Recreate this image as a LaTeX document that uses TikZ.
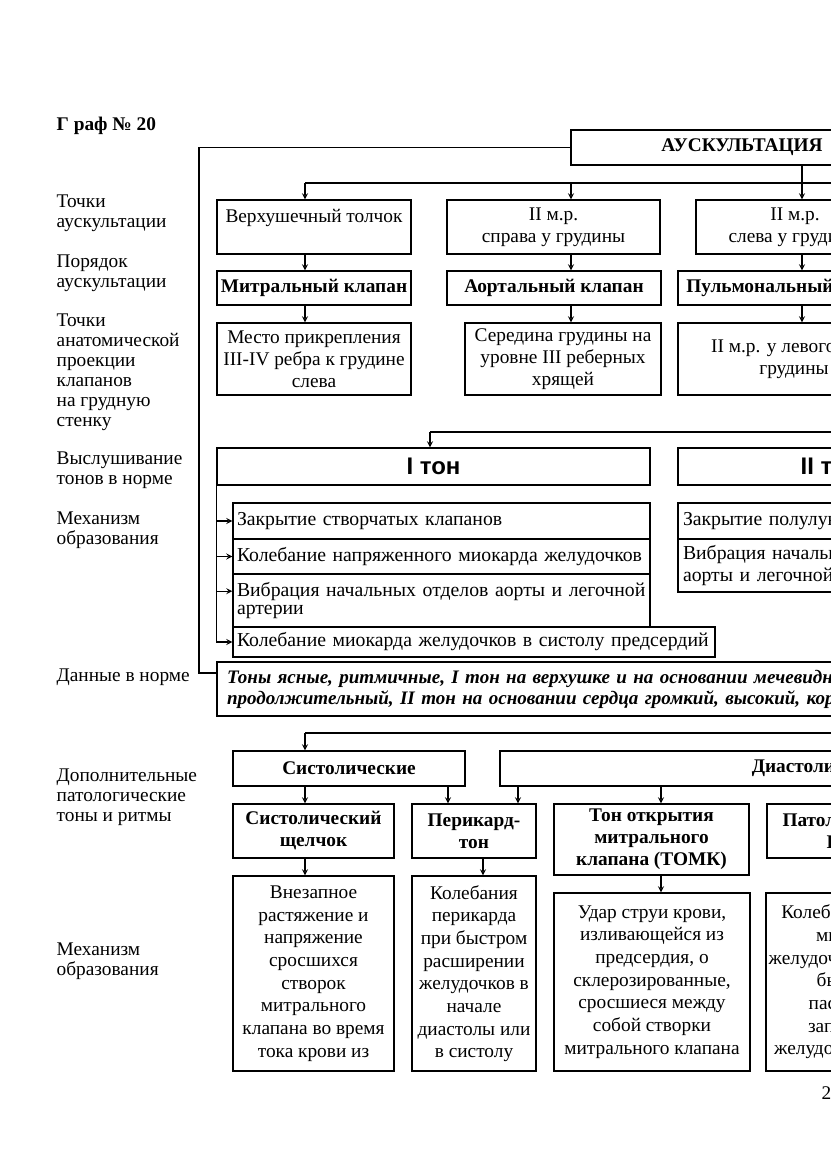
\documentclass[tikz,border=0pt]{standalone}
\usepackage{fontspec}
\setmainfont{Liberation Serif}
\newfontfamily\tonfont{Liberation Sans}
\usepackage{tikz}

\tikzset{
  blk/.style={draw, inner sep=0pt, align=center, font=\fontsize{14.5}{16.5}\selectfont},
  hd/.style={blk, font=\fontsize{14.5}{16.5}\selectfont\bfseries},
  lst/.style={draw, inner xsep=3pt, inner ysep=0pt, align=left, font=\fontsize{14.8}{16.5}\selectfont},
  lbl/.style={anchor=north west, inner sep=0pt, align=left, font=\fontsize{14.5}{15}\selectfont},
  ton/.style={blk, font=\tonfont\fontsize{18}{20}\selectfont\bfseries},
}

\begin{document}
\begin{tikzpicture}[x=0.75pt, y=-0.75pt, line width=1pt]
  \useasboundingbox (0,0) rectangle (831,1174);
  \clip (0,0) rectangle (831,1174);

  \node[lbl, font=\fontsize{14.5}{15}\selectfont\bfseries] (title) at (56,116) {Г раф № 20};
  \node[lbl] (lTochki) at (56,194) {Точки\\аускультации};
  \node[lbl] (lPoryad) at (56,254) {Порядок\\аускультации};
  \node[lbl] (lProj)   at (56,313) {Точки\\анатомической\\проекции\\клапанов\\на грудную\\стенку};
  \node[lbl] (lVysl)   at (56,451) {Выслушивание\\тонов в норме};
  \node[lbl] (lMehA)   at (56,511) {Механизм\\образования};
  \node[lbl] (lNorm)   at (56,668) {Данные в норме};
  \node[lbl] (lDop)    at (56,768) {Дополнительные\\патологические\\тоны и ритмы};
  \node[lbl] (lMehB)   at (56,942) {Механизм\\образования};

  \node[hd, minimum width=256.5pt, minimum height=26.25pt] (ausk) at (742,147.5) {АУСКУЛЬТАЦИЯ};

  \node[blk, minimum width=145.5pt, minimum height=40.5pt] (tolch) at (314,227) {Верхушечный толчок\\\mbox{}};
  \node[blk, minimum width=159.75pt, minimum height=40.5pt] (aortB) at (553.5,227) {II м.р.\\справа у грудины};
  \node[blk, minimum width=148.5pt, minimum height=40.5pt] (pulmB) at (795,227) {II м.р.\\слева у грудины};

  \node[hd, minimum width=145.5pt, minimum height=25.5pt] (mitr) at (314,288) {Митральный клапан};
  \node[hd, minimum width=160.5pt, minimum height=25.5pt] (aort) at (554,288) {Аортальный клапан};
  \node[hd, minimum width=174pt, minimum height=25.5pt] (pulm) at (794,288) {Пульмональный клапан};

  \node[blk, minimum width=145.5pt, minimum height=54pt] (mitrP) at (314,359) {Место прикрепления\\III-IV ребра к грудине\\слева};
  \node[blk, minimum width=147pt, minimum height=54pt] (aortP) at (563,359) {Середина грудины на\\уровне III реберных\\хрящей};
  \node[blk, minimum width=174pt, minimum height=54pt] (pulmP) at (794,359) {II м.р. у левого края\\грудины};

  \node[ton, minimum width=324.75pt, minimum height=27.75pt] (tonA) at (433.5,466.5) {I тон};
  \node[ton, minimum width=229.5pt, minimum height=27.75pt] (tonB) at (831,466.5) {II тон};

  \node[lst, text width=306.75pt, minimum height=27pt] (mA) at (441.5,521) {\mbox{Закрытие створчатых клапанов}};
  \node[lst, text width=306.75pt, minimum height=26.25pt] (mB) at (441.5,556.5) {\mbox{Колебание напряженного миокарда желудочков}};
  \node[lst, text width=306.75pt, minimum height=39.75pt, font=\fontsize{14.8}{13.5}\selectfont] (mC) at (441.5,600.5) {\mbox{Вибрация начальных отделов аорты и легочной}\\артерии};
  \node[lst, text width=355.5pt, minimum height=22.5pt] (mD) at (474,642) {\mbox{Колебание миокарда желудочков в систолу предсердий}};

  \node[lst, inner xsep=3.75pt, text width=234pt, minimum height=27pt] (rA) at (839,521) {\mbox{Закрытие полулунных клапанов}};
  \node[lst, inner xsep=3.75pt, text width=234pt, minimum height=39.75pt] (rB) at (839,565.5) {\mbox{Вибрация начальных отделов}\\\mbox{аорты и легочной артерии}};

  \node[lst, inner xsep=7.5pt, text width=647.25pt, minimum height=40.5pt, font=\fontsize{14.3}{15.75}\selectfont\bfseries\itshape] (norm) at (658.5,689)
    {\mbox{Тоны ясные, ритмичные, I тон на верхушке и на основании мечевидного}\\\mbox{продолжительный, II тон на основании сердца громкий, высокий, короткий}};

  \node[hd, minimum width=174pt, minimum height=26.25pt] (syst) at (349,768.5) {Систолические};
  \node[hd, minimum width=484.5pt, minimum height=26.25pt] (diast) at (823,768.5) {Диастолические};

  \node[hd, minimum width=120.75pt, minimum height=40.5pt] (click) at (313.5,831) {Систолический\\щелчок};
  \node[hd, minimum width=93pt, minimum height=40.5pt] (peri) at (474,831) {Перикард-\\тон};
  \node[hd, minimum width=146.25pt, minimum height=53.25pt] (tomk) at (651.5,839.5) {Тон открытия\\митрального\\клапана (ТОМК)};
  \node[hd, minimum width=132pt, minimum height=40.5pt] (patol) at (855,831) {Патологический\\III тон};

  \node[blk, font=\fontsize{14.5}{17}\selectfont, minimum width=120.75pt, minimum height=146.25pt] (clickM) at (313.5,973.5)
    {Внезапное\\растяжение и\\напряжение\\сросшихся\\створок\\митрального\\клапана во время\\тока крови из};
  \node[blk, font=\fontsize{14.5}{17}\selectfont, minimum width=93pt, minimum height=146.25pt] (periM) at (474,973.5)
    {Колебания\\перикарда\\при быстром\\расширении\\желудочков в\\начале\\диастолы или\\в систолу};
  \node[blk, font=\fontsize{14.5}{17}\selectfont, minimum width=147pt, minimum height=133.5pt] (tomkM) at (652,982)
    {Удар струи крови,\\изливающейся из\\предсердия, о\\склерозированные,\\сросшиеся между\\собой створки\\митрального клапана};
  \node[blk, font=\fontsize{14.5}{17}\selectfont, minimum width=133.5pt, minimum height=133.5pt] (patolM) at (855,982)
    {Колебания стенок\\миокарда\\желудочков во время\\быстрого\\пассивного\\заполнения\\желудочков кровью};

  \node[lbl] (pnum) at (821,1086) {2};

  \coordinate (a1) at (305,183);
  \coordinate (a2) at (571,183);
  \coordinate (a3) at (802,183);
  \coordinate (aend) at (860,183);
  \draw (a1) -- (aend);
  \path[-stealth]
    (a1) edge (a1 |- tolch.north)
    (a2) edge (a2 |- aortB.north)
    (ausk.south -| a3) edge (a3 |- pulmB.north)
    (tolch.south -| a1) edge (mitr.north -| a1)
    (aortB.south -| a2) edge (aort.north -| a2)
    (pulmB.south -| a3) edge (pulm.north -| a3)
    (mitr.south -| a1) edge (mitrP.north -| a1)
    (aort.south -| a2) edge (aortP.north -| a2)
    (pulm.south -| a3) edge (pulmP.north -| a3);

  \coordinate (fr) at (199,673);
  \draw (ausk.west) -| (fr) -- (fr -| norm.west);

  \coordinate (b1) at (430,432);
  \coordinate (bend) at (860,432);
  \draw (b1) -- (bend);
  \path[-stealth] (b1) edge (b1 |- tonA.north);
  \draw (tonA.south west) -- (tonA.south west |- mD.west);
  \coordinate (mCin) at ([yshift=7pt]mC.west);
  \path[-stealth]
    (tonA.south west |- mA.west) edge (mA.west)
    (tonA.south west |- mB.west) edge (mB.west)
    (tonA.south west |- mCin) edge (mCin)
    (tonA.south west |- mD.west) edge (mD.west);

  \coordinate (c1) at (305,733);
  \coordinate (cend) at (860,733);
  \coordinate (c2) at (448,733);
  \coordinate (c3) at (518,733);
  \coordinate (c4) at (661,733);
  \coordinate (c5) at (483,733);
  \draw (c1) -- (cend);
  \path[-stealth]
    (c1) edge (c1 |- syst.north)
    (syst.south -| c1) edge (click.north -| c1)
    (syst.south -| c2) edge (peri.north -| c2)
    (diast.south -| c3) edge (peri.north -| c3)
    (diast.south -| c4) edge (tomk.north -| c4)
    (click.south -| c1) edge (clickM.north -| c1)
    (peri.south -| c5) edge (periM.north -| c5)
    (tomk.south -| c4) edge (tomkM.north -| c4);
\end{tikzpicture}
\end{document}
